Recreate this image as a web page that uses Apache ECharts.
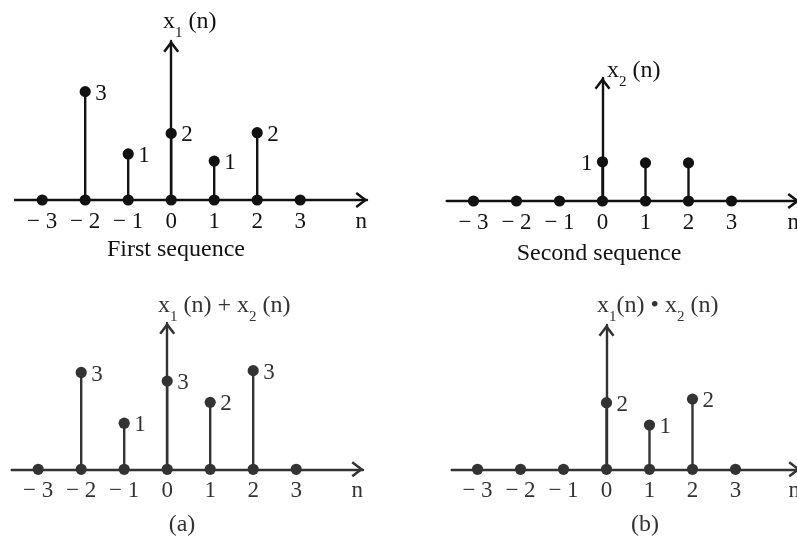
<!DOCTYPE html>
<html>
<head>
<meta charset="utf-8">
<script src="https://cdn.jsdelivr.net/npm/echarts@6/dist/echarts.min.js"></script>
<style>
html,body{margin:0;padding:0;background:#ffffff;}
#chart{width:797px;height:540px;}
</style>
</head>
<body>
<div id="chart"></div>
<script>
// ---------- data ----------
const n = [-3, -2, -1, 0, 1, 2, 3];
const tickLabels = ['\u2212 3', '\u2212 2', '\u2212 1', '0', '1', '2', '3'];

// stem heights as drawn in the figure (drawing units) and the values written beside them
const x1Heights   = [0, 3.01, 1.28, 1.85, 1.08, 1.87, 0];
const x1Labels    = ['', '3', '1', '2', '1', '2', ''];
const x2Heights   = [0, 0, 0, 1.09, 1.06, 1.06, 0];
const x2Labels    = ['', '', '', '1', '', '', ''];
const sumHeights  = [0, 2.69, 1.28, 2.45, 1.86, 2.74, 0];
const sumLabels   = ['', '3', '1', '3', '2', '3', ''];
const prodHeights = [0, 0, 0, 1.85, 1.23, 1.95, 0];
const prodLabels  = ['', '', '', '2', '1', '2', ''];

const axisNames = [
  '{m|x}{s|1}{m| (n)}',
  '{m|x}{s|2}{m| (n)}',
  '{m|x}{s|1}{m| (n) + x}{s|2}{m| (n)}',
  '{m|x}{s|1}{m|(n) \u2022 x}{s|2}{m| (n)}'
];
const captions = ['First sequence', 'Second sequence', '(a)', '(b)'];

// ---------- layout ----------
const FONT = '"Liberation Serif", "DejaVu Serif", serif';
const PX_PER_N = 43;     // horizontal pixels per sample
const PX_PER_UNIT = 36;  // vertical pixels per drawing unit
const LINE_W = 2.4;
const DOT_R = 5.6;
const panels = [
  {origin: 171.2, axisY: 200,   left: 15,    right: 367, top: 41,  color: '#121212', side: 1,
   nameX: 163, nameY: 22, capX: 176, capY: 250},
  {origin: 602.5, axisY: 201,   left: 446.7, right: 799, top: 78,  color: '#121212', side: -1,
   nameX: 607, nameY: 71, capX: 599, capY: 254},
  {origin: 167.2, axisY: 469.3, left: 11.7,  right: 363, top: 323, color: '#333333', side: 1,
   nameX: 158, nameY: 306, capX: 182, capY: 525},
  {origin: 606.5, axisY: 469.3, left: 451.7, right: 800, top: 325, color: '#333333', side: 1,
   nameX: 597, nameY: 306, capX: 645, capY: 525}
];
const seriesData = [
  [x1Heights, x1Labels], [x2Heights, x2Labels], [sumHeights, sumLabels], [prodHeights, prodLabels]
];

const ARROW = 'path://M0,0 L8,10.5 L6.01,12.02 L0,4.13 L-6.01,12.02 L-8,10.5 Z';
const ARROW_SIZE = [16, 12.02];

const grids = [], xAxes = [], yAxes = [], series = [], graphics = [];

panels.forEach((p, i) => {
  grids.push({
    left: p.left, top: p.top,
    width: p.right - p.left, height: p.axisY - p.top,
    containLabel: false, outerBoundsMode: 'none'
  });
  const axisLine = {
    show: true, onZero: true,
    symbol: ['none', ARROW], symbolSize: ARROW_SIZE, symbolOffset: [0, -ARROW_SIZE[1] / 2 + 0.5],
    lineStyle: {color: p.color, width: LINE_W}
  };
  xAxes.push({
    type: 'value', gridIndex: i,
    min: (p.left - p.origin) / PX_PER_N, max: (p.right - p.origin) / PX_PER_N,
    axisLine: axisLine,
    axisTick: {show: false},
    splitLine: {show: false},
    axisLabel: {
      show: true, customValues: n, margin: 10,
      fontFamily: FONT, fontSize: 23, color: p.color,
      formatter: v => tickLabels[n.indexOf(Math.round(v))]
    },
    name: 'n', nameLocation: 'end', nameGap: 0, nameMoveOverlap: false,
    nameTextStyle: {fontFamily: FONT, fontSize: 23, color: p.color,
      align: 'right', verticalAlign: 'top', padding: [10, 0, 0, 0]}
  });
  yAxes.push({
    type: 'value', gridIndex: i,
    min: 0, max: (p.axisY - p.top) / PX_PER_UNIT,
    axisLine: axisLine,
    axisTick: {show: false},
    axisLabel: {show: false},
    splitLine: {show: false}
  });
  const heights = seriesData[i][0], labels = seriesData[i][1];
  series.push({
    type: 'custom', xAxisIndex: i, yAxisIndex: i, z: 5,
    data: n.map((v, k) => [v, heights[k]]),
    renderItem: function (params, api) {
      const x = api.value(0), h = api.value(1);
      const b = api.coord([x, 0]);
      const t = api.coord([x, h]);
      const children = [];
      if (h > 0) {
        children.push({type: 'line', shape: {x1: b[0], y1: b[1], x2: t[0], y2: t[1]},
          style: {stroke: p.color, lineWidth: LINE_W}});
      }
      children.push({type: 'circle', shape: {cx: b[0], cy: b[1], r: DOT_R}, style: {fill: p.color}});
      if (h > 0) {
        children.push({type: 'circle', shape: {cx: t[0], cy: t[1], r: DOT_R}, style: {fill: p.color}});
      }
      const lab = labels[params.dataIndex];
      if (lab) {
        children.push({type: 'text', x: t[0] + p.side * 10, y: t[1] + 2,
          style: {text: lab, fill: p.color, fontFamily: FONT, fontSize: 23,
            align: p.side > 0 ? 'left' : 'right', verticalAlign: 'middle'}});
      }
      return {type: 'group', children: children};
    }
  });
  graphics.push({
    type: 'text', x: p.nameX, y: p.nameY, z: 10,
    style: {
      text: axisNames[i], align: 'left', verticalAlign: 'middle', fill: p.color,
      rich: {
        m: {fontFamily: FONT, fontSize: 24, fill: p.color},
        s: {fontFamily: FONT, fontSize: 15, fill: p.color, padding: [22, 0, 0, 0]}
      }
    }
  });
  graphics.push({
    type: 'text', x: p.capX, y: p.capY, z: 10,
    style: {text: captions[i], fontFamily: FONT, fontSize: 24, fill: p.color,
      align: 'center', verticalAlign: 'middle'}
  });
});

const chart = echarts.init(document.getElementById('chart'), null, {renderer: 'canvas'});
chart.setOption({
  animation: false,
  backgroundColor: '#ffffff',
  grid: grids,
  xAxis: xAxes,
  yAxis: yAxes,
  series: series,
  graphic: graphics
});
</script>
</body>
</html>
